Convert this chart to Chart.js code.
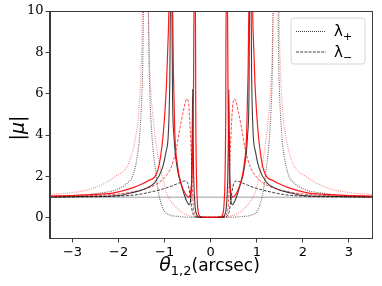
<!DOCTYPE html>
<html><head><meta charset="utf-8">
<script src="https://cdn.jsdelivr.net/npm/chart.js@4.4.1/dist/chart.umd.min.js"></script>
<style>html,body{margin:0;padding:0;background:#fff}#wrap{width:382px;height:286px;position:relative}</style>
</head><body><div id="wrap"><canvas id="c" width="382" height="286"></canvas></div>
<script>
// ---- tick values ----
const xTickValues = [-3, -2, -1, 0, 1, 2, 3];
const yTickValues = [0, 2, 4, 6, 8, 10];
const legendLabels = ["λ", "λ"];
const legendSubs = ["+", "−"];

// ---- reference line |mu| = 1 ----
const unityX = [-3.5, 3.5];
const unityY = [1, 1];

// ---- red solid |mu| ----
const redSolidX = [-3.5,-3,-2.5,-2.1,-1.7,-1.35,-1.15,-1.03,-0.96,-0.92,-0.895,-0.835,-0.81,-0.78,-0.72,-0.65,-0.56,-0.48,-0.43,-0.4,-0.375,-0.36,-0.335,-0.325,-0.31,-0.29,-0.27,-0.24,-0.18,0,
  0.18,0.24,0.27,0.29,0.31,0.325,0.335,0.36,0.375,0.4,0.43,0.48,0.56,0.65,0.72,0.78,0.81,0.835,0.895,0.92,0.96,1.03,1.15,1.35,1.7,2.1,2.5,3,3.5];
const redSolidY = [1.05,1.08,1.13,1.21,1.45,1.8,2.3,4.1,6.5,9,11,11,7,4.1,2.5,1.7,1.2,1.0,1.3,2.5,6,11,11,5,2,0.7,0.25,0.08,0.03,0.02,
  0.03,0.08,0.25,0.7,2,5,11,11,6,2.5,1.3,1.0,1.2,1.7,2.5,4.1,7,11,11,9,6.5,4.1,2.3,1.8,1.45,1.21,1.13,1.08,1.05];

// ---- black solid |mu| ----
const blackSolidX = [-3.5,-3,-2.5,-2,-1.72,-1.45,-1.22,-1.05,-0.97,-0.92,-0.89,-0.87,-0.845,-0.83,-0.8,-0.72,-0.64,-0.58,-0.52,-0.47,-0.435,-0.415,-0.4,-0.392,-0.385,-0.37,-0.345,-0.32,-0.29,-0.25,-0.18,0,
  0.18,0.25,0.29,0.32,0.345,0.37,0.385,0.392,0.4,0.415,0.435,0.47,0.52,0.58,0.64,0.72,0.8,0.83,0.845,0.87,0.89,0.92,0.97,1.05,1.22,1.45,1.72,2,2.5,3,3.5];
const blackSolidY = [1.01,1.02,1.04,1.08,1.21,1.38,1.69,2.4,3.2,4.1,6.5,11,11,6,4,2.3,1.6,1.15,0.8,0.63,0.9,2,4.5,6.2,4.2,2,0.7,0.25,0.09,0.04,0.03,0.02,
  0.03,0.04,0.09,0.25,0.7,2,4.2,6.2,4.5,2,0.9,0.63,0.8,1.15,1.6,2.3,4,6,11,11,6.5,4.1,3.2,2.4,1.69,1.38,1.21,1.08,1.04,1.02,1.01];

// ---- black dashed (lambda -) ----
const blackDashX = [-3.5,-3,-2.5,-2,-1.6,-1.3,-1.0,-0.8,-0.65,-0.57,-0.52,-0.48,-0.45,-0.42,-0.4,-0.37,-0.33,-0.28,0,
  0.28,0.33,0.37,0.4,0.42,0.45,0.48,0.52,0.57,0.65,0.8,1.0,1.3,1.6,2,2.5,3,3.5];
const blackDashY = [1.0,1.01,1.02,1.05,1.12,1.25,1.42,1.58,1.72,1.78,1.75,1.5,1.1,0.6,0.3,0.12,0.05,0.03,0.02,
  0.03,0.05,0.12,0.3,0.6,1.1,1.5,1.75,1.78,1.72,1.58,1.42,1.25,1.12,1.05,1.02,1.01,1.0];

// ---- red dashed (lambda -) ----
const redDashX = [-3.5,-3,-2.5,-2,-1.5,-1.2,-1.0,-0.85,-0.75,-0.68,-0.6,-0.52,-0.48,-0.45,-0.42,-0.4,-0.38,-0.35,-0.3,0,
  0.3,0.35,0.38,0.4,0.42,0.45,0.48,0.52,0.6,0.68,0.75,0.85,1.0,1.2,1.5,2,2.5,3,3.5];
const redDashY = [1.02,1.04,1.08,1.15,1.35,1.6,1.95,2.5,3.3,4.2,5.1,5.75,5.5,4.5,3,1.5,0.6,0.2,0.06,0.03,
  0.06,0.2,0.6,1.5,3,4.5,5.5,5.75,5.1,4.2,3.3,2.5,1.95,1.6,1.35,1.15,1.08,1.04,1.02];

// ---- red dotted (lambda +) ----
const redDotX = [-3.5,-3,-2.5,-2.07,-1.78,-1.64,-1.56,-1.5,-1.47,-1.37,-1.32,-1.25,-1.17,-1.05,-0.96,-0.88,-0.75,-0.6,-0.45,-0.38,-0.3,0,
  0.3,0.38,0.45,0.6,0.75,0.88,0.96,1.05,1.17,1.25,1.32,1.37,1.47,1.5,1.56,1.64,1.78,2.07,2.5,3,3.5];
const redDotY = [1.13,1.22,1.47,2.0,2.64,3.8,5.2,8,11,11,7,4.8,3.3,2.0,1.2,0.87,0.5,0.23,0.1,0.06,0.04,0.03,
  0.04,0.06,0.1,0.23,0.5,0.87,1.2,2.0,3.3,4.8,7,11,11,8,5.2,3.8,2.64,2.0,1.47,1.22,1.13];

// ---- black dotted (lambda +) ----
const blackDotX = [-3.5,-3,-2.5,-2.04,-1.8,-1.7,-1.6,-1.54,-1.48,-1.45,-1.37,-1.33,-1.28,-1.2,-1.14,-1.03,-0.9,-0.67,-0.5,-0.35,0,
  0.35,0.5,0.67,0.9,1.03,1.14,1.2,1.28,1.33,1.37,1.45,1.48,1.54,1.6,1.7,1.8,2.04,2.5,3,3.5];
const blackDotY = [1.02,1.06,1.17,1.37,1.7,2.0,2.9,4.1,7,11,11,6.5,4.1,2.3,1.3,0.4,0.15,0.06,0.03,0.02,0.02,
  0.02,0.03,0.06,0.15,0.4,1.3,2.3,4.1,6.5,11,11,7,4.1,2.9,2.0,1.7,1.37,1.17,1.06,1.02];

function pts(xs, ys) { return xs.map((x, i) => ({ x: x, y: ys[i] })); }

function ds(xs, ys, color, width, dash) {
  return { data: pts(xs, ys), borderColor: color, borderWidth: width, borderDash: dash || [],
    pointRadius: 0, fill: false, cubicInterpolationMode: 'monotone', showLine: true };
}

const AX = '#3a3a3a';

const framePlugin = {
  id: 'frame',
  afterDraw(chart) {
    const ctx = chart.ctx, a = chart.chartArea;
    ctx.save();
    ctx.strokeStyle = AX; ctx.lineWidth = 1;
    ctx.strokeRect(Math.round(a.left) + 0.5, Math.round(a.top) + 0.5, Math.round(a.right - a.left) - 1, Math.round(a.bottom - a.top) - 1);

    // legend
    const lx = 291, ly = 18, lw = 74, lh = 46, r = 3;
    ctx.beginPath();
    ctx.moveTo(lx + r, ly); ctx.lineTo(lx + lw - r, ly); ctx.arcTo(lx + lw, ly, lx + lw, ly + r, r);
    ctx.lineTo(lx + lw, ly + lh - r); ctx.arcTo(lx + lw, ly + lh, lx + lw - r, ly + lh, r);
    ctx.lineTo(lx + r, ly + lh); ctx.arcTo(lx, ly + lh, lx, ly + lh - r, r);
    ctx.lineTo(lx, ly + r); ctx.arcTo(lx, ly, lx + r, ly, r); ctx.closePath();
    ctx.fillStyle = 'rgba(255,255,255,0.85)'; ctx.fill();
    ctx.strokeStyle = '#d6d6d6'; ctx.lineWidth = 1; ctx.stroke();

    const rows = [{ y: 31, dash: [1, 1] }, { y: 51.5, dash: [3, 1.2] }];
    rows.forEach((row, i) => {
      ctx.beginPath(); ctx.setLineDash(row.dash); ctx.strokeStyle = 'rgba(0,0,0,0.75)'; ctx.lineWidth = 1;
      ctx.moveTo(296, row.y + 0.5); ctx.lineTo(326, row.y + 0.5); ctx.stroke();
      ctx.setLineDash([]);
      ctx.fillStyle = '#000'; ctx.textBaseline = 'alphabetic'; ctx.textAlign = 'left';
      ctx.font = '15px "DejaVu Sans"';
      ctx.fillText(legendLabels[i], 334, row.y + 5);
      ctx.font = '11px "DejaVu Sans"';
      ctx.fillText(legendSubs[i], 343, row.y + 9);
    });

    // x title
    ctx.fillStyle = '#000'; ctx.textBaseline = 'alphabetic'; ctx.textAlign = 'left';
    const f1 = 'italic 19px "DejaVu Sans"', f2 = '13px "DejaVu Sans"', f3 = '17px "DejaVu Sans"';
    ctx.font = f1; const w1 = ctx.measureText('θ').width;
    ctx.font = f2; const w2 = ctx.measureText('1,2').width;
    ctx.font = f3; const w3 = ctx.measureText('(arcsec)').width;
    let x0 = 209.5 - (w1 + w2 + w3) / 2; const by = 271;
    ctx.font = f1; ctx.fillText('θ', x0, by); x0 += w1;
    ctx.font = f2; ctx.fillText('1,2', x0, by + 4); x0 += w2;
    ctx.font = f3; ctx.fillText('(arcsec)', x0, by);

    // y title
    ctx.save();
    ctx.translate(24, 128); ctx.rotate(-Math.PI / 2);
    ctx.font = '19px "DejaVu Sans"';
    const wb = ctx.measureText('|').width;
    ctx.font = 'italic 19px "DejaVu Sans"';
    const wm = ctx.measureText('μ').width;
    let yx = -(2 * wb + wm) / 2;
    ctx.font = '19px "DejaVu Sans"'; ctx.fillText('|', yx, 0); yx += wb;
    ctx.font = 'italic 19px "DejaVu Sans"'; ctx.fillText('μ', yx, 0); yx += wm;
    ctx.font = '19px "DejaVu Sans"'; ctx.fillText('|', yx, 0);
    ctx.restore();
    ctx.restore();
  }
};

new Chart(document.getElementById('c'), {
  type: 'scatter',
  data: { datasets: [
    ds(redSolidX, redSolidY, 'rgba(255,0,0,0.9)', 1.2),
    ds(blackSolidX, blackSolidY, 'rgba(0,0,0,0.75)', 1.1),
    ds(redDashX, redDashY, 'rgba(255,0,0,0.7)', 1, [3, 1.5]),
    ds(blackDashX, blackDashY, 'rgba(0,0,0,0.75)', 1, [3, 1.5]),
    ds(redDotX, redDotY, 'rgba(255,0,0,0.45)', 1.1, [1, 1.2]),
    ds(blackDotX, blackDotY, 'rgba(0,0,0,0.6)', 1.1, [1, 1.2]),
    ds(unityX, unityY, 'rgba(175,175,175,0.8)', 1.5)
  ]},
  options: {
    responsive: false, animation: false, devicePixelRatio: 1,
    layout: { padding: { top: 11, right: 10, left: 0, bottom: 0 } },
    plugins: { legend: { display: false }, tooltip: { enabled: false } },
    scales: {
      x: { type: 'linear', min: -3.5, max: 3.5,
        afterFit(s) { s.height = 47.5; },
        afterBuildTicks(s) { s.ticks = xTickValues.map(v => ({ value: v })); },
        grid: { drawOnChartArea: false, drawTicks: true, tickLength: 4, tickColor: AX },
        border: { display: true, color: AX },
        ticks: { padding: 2, color: '#000', font: { family: 'DejaVu Sans', size: 13 },
          callback: v => (v < 0 ? '−' + Math.abs(v) : String(v)) } },
      y: { type: 'linear', min: -1, max: 10,
        afterFit(s) { s.width = 49.5; },
        afterBuildTicks(s) { s.ticks = yTickValues.map(v => ({ value: v })); },
        grid: { drawOnChartArea: false, drawTicks: true, tickLength: 4, tickColor: AX },
        border: { display: true, color: AX },
        ticks: { padding: 2, color: '#000', font: { family: 'DejaVu Serif', size: 13 } } }
    }
  },
  plugins: [framePlugin]
});
</script></body></html>
